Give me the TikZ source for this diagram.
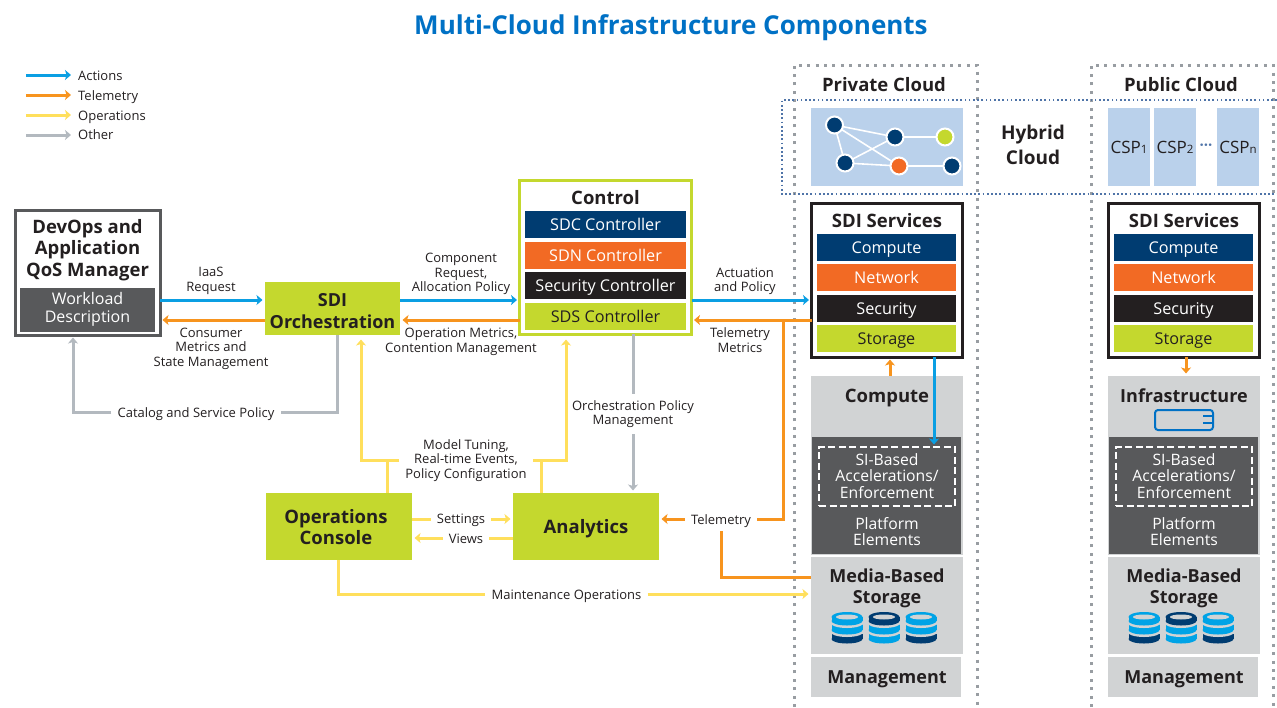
\documentclass[tikz,border=0pt]{standalone}
\usepackage{fontspec}
\setmainfont{Open Sans}
\usetikzlibrary{arrows.meta}
\definecolor{titleblue}{HTML}{0071C5}
\definecolor{actionblue}{HTML}{0A9FE3}
\definecolor{teleorange}{HTML}{F7941E}
\definecolor{opsyellow}{HTML}{FFDF5C}
\definecolor{othergray}{HTML}{B3B9BF}
\definecolor{lime}{HTML}{C4D82E}
\definecolor{navy}{HTML}{003C71}
\definecolor{netorange}{HTML}{F26A24}
\definecolor{inkblack}{HTML}{231F20}
\definecolor{slate}{HTML}{58595B}
\definecolor{pale}{HTML}{D1D3D4}
\definecolor{panel}{HTML}{BAD1EB}
\definecolor{dbblue}{HTML}{00A3E6}
\definecolor{hybridblue}{HTML}{4F74A8}
\tikzset{
  block/.style={inner sep=0pt,outer sep=0pt,align=center},
  barbox/.style={block,minimum width=139pt,minimum height=27pt,text height=12pt,text depth=.6pt,text=white,font=\fontsize{16.2}{18}\selectfont},
  ctlbox/.style={barbox,minimum width=161pt},
  head/.style={inner sep=0pt,align=center,text=inkblack,font=\fontsize{18.5}{21.5}\selectfont\bfseries},
  narrowhead/.style={head,font=\fontsize{18}{21.5}\selectfont\bfseries},
  plain/.style={inner sep=0pt,align=center,text=white,font=\fontsize{15.7}{16.5}\selectfont},
  lbl/.style={inner xsep=6pt,inner ysep=1pt,align=center,text=inkblack,font=\fontsize{13}{14.5}\selectfont},
  lone/.style={lbl,text height=11pt,text depth=1pt},
  actions/.style={draw=actionblue,line width=3pt,shorten >=2.5pt,-{Stealth[length=6pt,width=10pt,inset=1.5pt]}},
  telemetry/.style={draw=teleorange,line width=3pt,shorten >=2.5pt,-{Stealth[length=6pt,width=10pt,inset=1.5pt]}},
  operations/.style={draw=opsyellow,line width=3pt,shorten >=2.5pt,-{Stealth[length=6pt,width=10pt,inset=1.5pt]}},
  other/.style={draw=othergray,line width=3pt,shorten >=2.5pt,-{Stealth[length=6pt,width=10pt,inset=1.5pt]}},
  teleline/.style={draw=teleorange,line width=3pt},
  opsline/.style={draw=opsyellow,line width=3pt},
  otherline/.style={draw=othergray,line width=3pt},
  cloudline/.style={draw=othergray!85!black,line width=3pt,dash pattern=on 3pt off 5.4pt},
  hub/.style={circle,fill=navy,draw=white,line width=2pt,minimum size=17pt,inner sep=0pt},
  link/.style={draw=white,line width=1.6pt},
  cspbox/.style={block,fill=panel,minimum width=42pt,minimum height=78pt,text=inkblack,font=\fontsize{17}{19}\selectfont},
  accelbox/.style={block,draw=white,line width=2.4pt,dash pattern=on 7pt off 3.5pt,minimum width=136pt,minimum height=59pt}
}
\newcommand{\cspsub}[1]{{\fontsize{11.5}{12}\selectfont #1}}
% one stack of three discs, top at y=612
\newcommand{\dbstack}[4]{
  \fill[#4] (#1-15.5,634) rectangle (#1+15.5,639);
  \fill[#4] (#1,639) ellipse [x radius=15.5,y radius=4.5];
  \fill[pale] (#1,631.5) ellipse [x radius=17,y radius=5.5];
  \fill[#3] (#1-15.5,622) rectangle (#1+15.5,630);
  \fill[#3] (#1,630) ellipse [x radius=15.5,y radius=4.5];
  \fill[#3] (#1,622) ellipse [x radius=15.5,y radius=4.5];
  \fill[pale] (#1,622.5) ellipse [x radius=17,y radius=5.5];
  \fill[#2] (#1-15.5,617) rectangle (#1+15.5,621);
  \fill[#2] (#1,621) ellipse [x radius=15.5,y radius=4.5];
  \fill[#2] (#1,617) ellipse [x radius=15.5,y radius=5];
  \fill[pale] (#1,617) ellipse [x radius=11,y radius=2.5];
}
\begin{document}
\begin{tikzpicture}[x=1pt,y=-1pt]
  \useasboundingbox (0,0) rectangle (1277,707);
  \node[inner sep=0pt,text=titleblue,font=\fontsize{26}{30}\selectfont\bfseries] (title) at (671,28) {Multi-Cloud Infrastructure Components};

  % legend
  \coordinate (legA) at (26,75);
  \coordinate (legB) at (26,95);
  \coordinate (legC) at (26,115);
  \coordinate (legD) at (26,135);
  \node[lone,anchor=west,inner xsep=0pt] (actlbl) at (78,75) {Actions};
  \node[lone,anchor=west,inner xsep=0pt] (tellbl) at (78,95) {Telemetry};
  \node[lone,anchor=west,inner xsep=0pt] (opslbl) at (78,115) {Operations};
  \node[lone,anchor=west,inner xsep=0pt] (othlbl) at (78,134) {Other};
  \draw[actions] (legA) -- ++(47.5,0);
  \draw[telemetry] (legB) -- ++(47.5,0);
  \draw[operations] (legC) -- ++(47.5,0);
  \draw[other] (legD) -- ++(47.5,0);

  % cloud columns
  \draw[cloudline] (794,707) -- (794,65) -- (977,65) -- (977,707);
  \draw[cloudline] (1091,707) -- (1091,65) -- (1273,65) -- (1273,707);
  \draw[hybridblue,line width=1.7pt,dash pattern=on 1.7pt off 2.5pt] (1277,100) -- (782,100) -- (782,194) -- (1277,194);
  \node[head] (privhead) at (884,85) {Private Cloud};
  \node[head] (pubhead) at (1181,85) {Public Cloud};
  \node[head,font=\fontsize{19}{25}\selectfont\bfseries] (hybrid) at (1033,145) {Hybrid\\Cloud};

  % network panel
  \node[block,fill=panel,minimum width=152pt,minimum height=78pt] (netpanel) at (887,147) {};
  \coordinate (n1) at (834.5,125);
  \coordinate (n2) at (895,137);
  \coordinate (n3) at (945,137);
  \coordinate (n4) at (845,163);
  \coordinate (n5) at (899,166);
  \coordinate (n6) at (952,166);
  \draw[link] (n1) -- (n2);
  \draw[link] (n1) -- (n4);
  \draw[link] (n1) -- (n5);
  \draw[link] (n2) -- (n3);
  \draw[link] (n2) -- (n4);
  \draw[link] (n4) -- (n5);
  \draw[link] (n5) -- (n6);
  \node[hub] (hub1) at (n1) {};
  \node[hub] (hub2) at (n2) {};
  \node[hub,fill=lime] (hub3) at (n3) {};
  \node[hub] (hub4) at (n4) {};
  \node[hub,fill=netorange] (hub5) at (n5) {};
  \node[hub] (hub6) at (n6) {};

  % providers
  \node[cspbox] (csp1) at (1129,147) {CSP\cspsub{1}};
  \node[cspbox] (csp2) at (1175,147) {CSP\cspsub{2}};
  \node[cspbox] (cspn) at (1238,147) {CSP\cspsub{n}};
  \node[inner sep=0pt,text=hybridblue,font=\fontsize{15}{15}\selectfont\bfseries] (cspdots) at (1206,147) {···};

  % private column
  \node[block,draw=inkblack,line width=3pt,minimum width=151pt,minimum height=154pt] (privsdi) at (887,280) {};
  \node[head] (privsdihead) at (887,221) {SDI Services};
  \node[barbox,fill=navy] (privcompute) at (886.5,247.5) {Compute};
  \node[barbox,fill=netorange] (privnetwork) at (886.5,277.5) {Network};
  \node[barbox,fill=inkblack] (privsecurity) at (886.5,308.5) {Security};
  \node[barbox,fill=lime,text=inkblack] (privstorage) at (886.5,338.5) {Storage};
  \node[block,fill=pale,minimum width=152pt,minimum height=179pt] (privhw) at (887,465.5) {};
  \node[head] (privhwhead) at (887,398.5) {Compute};
  \node[block,fill=slate,minimum width=149pt,minimum height=117pt] (privplat) at (886.5,495.5) {};
  \node[accelbox] (privaccel) at (887,476.5) {};
  \node[plain] (privacceltxt) at (887,476) {SI-Based\\Accelerations/\\Enforcement};
  \node[plain] (privplattxt) at (887,531.5) {Platform\\Elements};
  \node[block,fill=pale,minimum width=152pt,minimum height=97pt] (privmedia) at (887,605.5) {};
  \node[narrowhead] (privmediatxt) at (887,588.5) {Media-Based\\Storage};
  \dbstack{847}{dbblue}{dbblue}{navy}
  \dbstack{884}{navy}{dbblue}{dbblue}
  \dbstack{921}{dbblue}{dbblue}{navy}
  \node[block,fill=pale,minimum width=150pt,minimum height=40pt] (privmgmt) at (886,677) {};
  \node[narrowhead] (privmgmttxt) at (887,679.5) {Management};

  % public column
  \node[block,draw=inkblack,line width=3pt,minimum width=151pt,minimum height=154pt] (pubsdi) at (1184,280) {};
  \node[head] (pubsdihead) at (1184,221) {SDI Services};
  \node[barbox,fill=navy] (pubcompute) at (1183.5,247.5) {Compute};
  \node[barbox,fill=netorange] (pubnetwork) at (1183.5,277.5) {Network};
  \node[barbox,fill=inkblack] (pubsecurity) at (1183.5,308.5) {Security};
  \node[barbox,fill=lime,text=inkblack] (pubstorage) at (1183.5,338.5) {Storage};
  \node[block,fill=pale,minimum width=152pt,minimum height=179pt] (pubhw) at (1184,465.5) {};
  \node[narrowhead] (pubhwhead) at (1184,396) {Infrastructure};
  \draw[titleblue,line width=2pt,rounded corners=3pt] (1155,410) rectangle (1213,430);
  \draw[titleblue,line width=2.4pt] (1203,416) -- (1212,416);
  \draw[titleblue,line width=2.4pt] (1203,423) -- (1212,423);
  \node[block,fill=slate,minimum width=149pt,minimum height=117pt] (pubplat) at (1183.5,495.5) {};
  \node[accelbox] (pubaccel) at (1184,476.5) {};
  \node[plain] (pubacceltxt) at (1184,476) {SI-Based\\Accelerations/\\Enforcement};
  \node[plain] (pubplattxt) at (1184,531.5) {Platform\\Elements};
  \node[block,fill=pale,minimum width=152pt,minimum height=97pt] (pubmedia) at (1184,605.5) {};
  \node[narrowhead] (pubmediatxt) at (1184,588.5) {Media-Based\\Storage};
  \dbstack{1144}{dbblue}{dbblue}{navy}
  \dbstack{1181}{navy}{dbblue}{dbblue}
  \dbstack{1218}{dbblue}{dbblue}{navy}
  \node[block,fill=pale,minimum width=150pt,minimum height=40pt] (pubmgmt) at (1183,677) {};
  \node[narrowhead] (pubmgmttxt) at (1184,679.5) {Management};

  % left blocks
  \node[block,draw=slate,line width=3pt,minimum width=145pt,minimum height=125pt] (devops) at (87.5,272.5) {};
  \node[head] (devopshead) at (87.5,250) {DevOps and\\Application\\QoS Manager};
  \node[block,fill=slate,text=white,minimum width=135pt,minimum height=44pt,font=\fontsize{16}{17.5}\selectfont] (workload) at (87.5,309.5) {Workload\\Description};
  \node[block,fill=lime,minimum width=135pt,minimum height=53pt] (orch) at (332.5,308.5) {};
  \node[narrowhead] (orchtxt) at (332.5,311) {SDI\\Orchestration};
  \node[block,draw=lime,line width=3pt,minimum width=172pt,minimum height=154pt] (control) at (605.5,257) {};
  \node[head] (controlhead) at (605.5,198) {Control};
  \node[ctlbox,fill=navy] (sdc) at (605.5,224.5) {SDC Controller};
  \node[ctlbox,fill=netorange] (sdn) at (605.5,255.5) {SDN Controller};
  \node[ctlbox,fill=inkblack] (sec) at (605.5,285.5) {Security Controller};
  \node[ctlbox,fill=lime,text=inkblack] (sds) at (605.5,316.5) {SDS Controller};
  \node[block,fill=lime,minimum width=146pt,minimum height=67pt] (console) at (339,526.5) {};
  \node[head] (consoletxt) at (336,527) {Operations\\Console};
  \node[block,fill=lime,minimum width=146pt,minimum height=67pt] (analytics) at (586,526.5) {};
  \node[head] (analyticstxt) at (586,529) {Analytics};

  % labels on the links
  \node[lbl] (iaas) at (211,281) {IaaS\\Request};
  \node[lbl] (consumer) at (211,348.5) {Consumer\\Metrics and\\State Management};
  \node[lone] (catalog) at (196,412) {Catalog and Service Policy};
  \node[lbl] (component) at (461,274) {Component\\Request,\\Allocation Policy};
  \node[lbl] (opmetrics) at (461,342) {Operation Metrics,\\Contention Management};
  \node[lbl] (actuation) at (745,281.5) {Actuation\\and Policy};
  \node[lbl] (telemetrics) at (740,340) {Telemetry\\Metrics};
  \node[lbl,inner ysep=6.5pt] (orchpolicy) at (633,414) {Orchestration Policy\\Management};
  \node[lbl] (tuning) at (466,460.5) {Model Tuning,\\Real-time Events,\\Policy Configuration};
  \node[lone] (settings) at (461,518.5) {Settings};
  \node[lone] (views) at (466,538) {Views};
  \node[lone,inner ysep=6pt] (telem) at (721,519) {Telemetry};
  \node[lone] (maint) at (566.5,594) {Maintenance Operations};

  % rows of the horizontal links
  \coordinate (rowup) at (0,300);
  \coordinate (rowdown) at (0,320);
  \coordinate (rowset) at (0,519);
  \coordinate (rowview) at (0,538);
  \coordinate (rowtune) at (0,460);

  \draw[actions] (devops.east |- rowup) -- (orch.west |- rowup);
  \draw[telemetry] (orch.west |- rowdown) -- (devops.east |- rowdown);
  \draw[actions] (orch.east |- rowup) -- (control.west |- rowup);
  \draw[telemetry] (control.west |- rowdown) -- (orch.east |- rowdown);
  \draw[actions] (control.east |- rowup) -- (privsdi.west |- rowup);
  \draw[telemetry] (privsdi.west |- rowdown) -- (control.east |- rowdown);

  \coordinate (tapA) at (783,320);
  \draw[teleline] (tapA) |- (telem.east);
  \draw[telemetry] (telem.west) -- (analytics.east |- telem);
  \coordinate (mediatap) at (721,577);
  \draw[teleline] (telem.south) -- (mediatap) -- (privmedia.west |- mediatap);
  \coordinate (hwup) at (890,0);
  \coordinate (hwdown) at (934,0);
  \coordinate (pubdown) at (1186,0);
  \draw[telemetry] (privhw.north -| hwup) -- (privsdi.south -| hwup);
  \draw[actions] (privsdi.south -| hwdown) -- (privaccel.north -| hwdown);
  \draw[telemetry] (pubsdi.south -| pubdown) -- (pubhw.north -| pubdown);

  \coordinate (orchgray) at (337,0);
  \coordinate (devgray) at (73,0);
  \draw[otherline] (orch.south -| orchgray) |- (catalog.east);
  \draw[other] (catalog.west) -| (devops.south -| devgray);
  \draw[otherline] (control.south -| orchpolicy) -- (orchpolicy.north);
  \draw[other] (orchpolicy.south) -- (analytics.north -| orchpolicy);

  \coordinate (consoleup) at (361,337);
  \coordinate (analyticsup) at (566,337);
  \coordinate (consolestem) at (387,460);
  \coordinate (analyticsstem) at (541,460);
  \coordinate (consolefoot) at (338,0);
  \draw[operations] (tuning.west |- rowtune) -| (consoleup);
  \draw[opsline] (console.north -| consolestem) -- (consolestem);
  \draw[operations] (tuning.east |- rowtune) -| (analyticsup);
  \draw[opsline] (analytics.north -| analyticsstem) -- (analyticsstem);

  \draw[opsline] (console.east |- rowset) -- (settings.west |- rowset);
  \draw[operations] (settings.east |- rowset) -- (analytics.west |- rowset);
  \draw[opsline] (analytics.west |- rowview) -- (views.east);
  \draw[operations] (views.west) -- (console.east |- rowview);
  \draw[opsline] (console.south -| consolefoot) |- (maint.west);
  \draw[operations] (maint.east) -- (privmedia.west |- maint);
\end{tikzpicture}
\end{document}
